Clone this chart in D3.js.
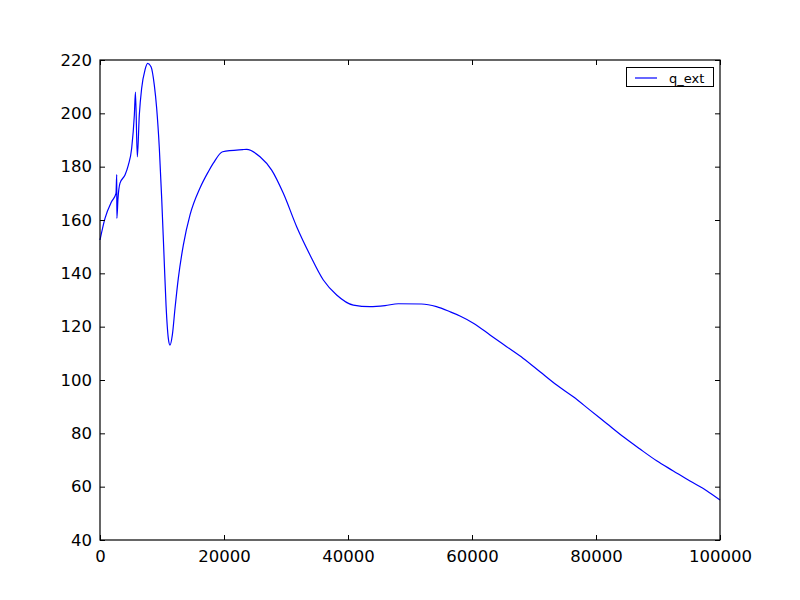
<!DOCTYPE html>
<html><head><meta charset="utf-8">
<script src="https://cdn.jsdelivr.net/npm/d3@7/dist/d3.min.js"></script>
<style>body{margin:0;background:#fff}svg{display:block}</style>
</head><body>
<script>
const xValues = [0,806,1880,2580,2700,2720,2900,3226,4032,4570,5110,5540,5720,6020,6340,6720,7260,7690,8230,8760,9140,9570,9950,10320,10650,11020,11290,11670,12100,12630,13440,14520,16130,17470,18280,19780,23000,23660,25810,27690,29570,31720,33870,36020,38170,40860,43550,45970,48120,51850,54270,56450,58060,60220,62900,65590,68280,70970,73660,76340,79030,81720,84410,87100,89780,92470,95160,97850,100000];
const qExt = [152.5,160.6,166.9,170,177,160.6,168,173.8,176.9,180.6,186.9,199.4,208,183.7,199.4,209.4,216.3,218.7,217.5,210.6,201.9,186.9,168.1,146.9,128.1,115.6,113.1,116.9,126.9,138.1,150.6,161.9,172,178.1,181.3,185.6,186.4,186.5,183.7,178.7,170,157.5,146.9,137.5,131.9,128.1,127.5,127.9,128.6,128.5,127.5,125.6,124,121.3,116.9,112.5,108.1,103.1,98.1,93.7,88.7,83.7,78.7,74.1,69.7,65.9,62.1,58.5,55];
const xTicks = [0,20000,40000,60000,80000,100000];
const yTicks = [40,60,80,100,120,140,160,180,200,220];
const seriesName = "q_ext";

const W=800,H=600, L=100,R=720,T=60,B=540;
const svg=d3.select("body").append("svg").attr("width",W).attr("height",H);
const x=d3.scaleLinear().domain([0,100000]).range([L,R]);
const y=d3.scaleLinear().domain([40,220]).range([B,T]);
const font="DejaVu Sans";
const tl=5;

const g=svg.append("g");
// line
const data=xValues.map((v,i)=>[v,qExt[i]]);
g.append("path").datum(data)
 .attr("fill","none").attr("stroke","#0000ff").attr("stroke-width",1.2)
 .attr("d",d3.line().x(d=>x(d[0])).y(d=>y(d[1])).curve(d3.curveMonotoneX));

// axes with inward ticks
const axB=svg.append("g").attr("transform",`translate(0,${B})`).call(d3.axisBottom(x).tickValues(xTicks).tickFormat(d3.format("d")).tickSizeInner(-tl).tickSizeOuter(0).tickPadding(8));
const axT=svg.append("g").attr("transform",`translate(0,${T})`).call(d3.axisTop(x).tickValues(xTicks).tickFormat("").tickSizeInner(-tl).tickSizeOuter(0));
const axL=svg.append("g").attr("transform",`translate(${L},0)`).call(d3.axisLeft(y).tickValues(yTicks).tickFormat(d3.format("d")).tickSizeInner(-tl).tickSizeOuter(0).tickPadding(8));
const axR=svg.append("g").attr("transform",`translate(${R},0)`).call(d3.axisRight(y).tickValues(yTicks).tickFormat("").tickSizeInner(-tl).tickSizeOuter(0));
[axB,axT,axL,axR].forEach(a=>{
  a.select(".domain").remove();
  a.selectAll(".tick line").attr("stroke","#000").attr("stroke-width",1);
  a.selectAll("text").attr("font-family",font).attr("font-size","16.5px").attr("fill","#000");
});
axB.selectAll("text").attr("dy","0.85em");
// frame
svg.append("rect").attr("x",L).attr("y",T).attr("width",R-L).attr("height",B-T)
 .attr("fill","none").attr("stroke","#000").attr("stroke-width",1.2);

// legend
const lg=svg.append("g");
lg.append("rect").attr("x",626.5).attr("y",67.5).attr("width",87).attr("height",19)
 .attr("fill","#fff").attr("stroke","#000").attr("stroke-width",1);
lg.append("line").attr("x1",635).attr("x2",657).attr("y1",78).attr("y2",78)
 .attr("stroke","#0000ff").attr("stroke-width",1.2);
lg.append("text").attr("x",669).attr("y",82.5).attr("font-family",font).attr("font-size","13px").text(seriesName);
</script>
</body></html>
